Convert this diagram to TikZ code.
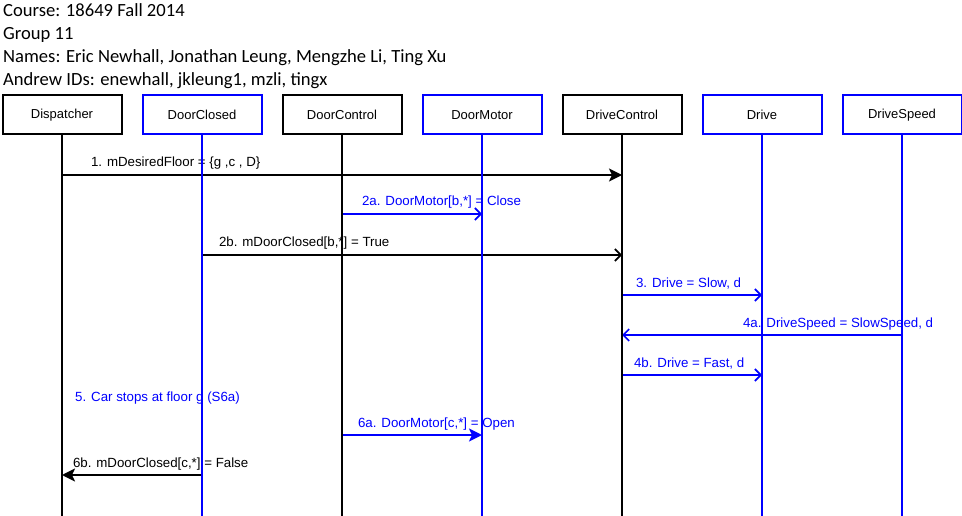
\documentclass[tikz,border=0pt]{standalone}
\usepackage{fontspec}
\setmainfont{Liberation Sans}
\newfontfamily\hdrfont{Carlito}
\usetikzlibrary{arrows.meta}

\begin{document}
\begin{tikzpicture}[x=1pt,y=-1pt,
    actor/.style={draw,line width=2pt,fill=white,minimum width=119pt,minimum height=39pt,inner sep=0pt,font=\fontsize{13}{15}\selectfont},
    life/.style={line width=2pt},
    msg/.style={line width=2pt},
    open/.style={-{Straight Barb[length=6pt,width=12pt,line width=1.6pt]}},
    solid/.style={-{Stealth[length=13pt,width=13pt,inset=3pt]}},
    lbl/.style={anchor=base west,inner sep=0pt,font=\fontsize{13.3}{15}\selectfont}]

\useasboundingbox (0,0) rectangle (962,516);
\coordinate (bot) at (0,516);

\foreach \t [count=\i] in {{Course: 18649 Fall 2014},{Group 11},
    {Names: Eric Newhall, Jonathan Leung, Mengzhe Li, Ting Xu},
    {Andrew IDs: enewhall, jkleung1, mzli, tingx}}{
    \node[anchor=base west,inner sep=0pt,font=\hdrfont\fontsize{18.6}{22}\selectfont] (hdr\i) at (3,{16.5+23*(\i-1)}) {\t};
}

\foreach \n/\t/\c [count=\i] in {disp/Dispatcher/black,dcls/DoorClosed/blue,
    dctrl/DoorControl/black,dmot/DoorMotor/blue,dctl/DriveControl/black,
    drv/Drive/blue,dspd/DriveSpeed/blue}{
    \node[actor,draw=\c] (\n) at ({62+140*(\i-1)},115) {\t};
}

\draw[msg,solid] (disp |- 0,175) -- (dctl |- 0,175)
    node[lbl,pos=0,xshift=28pt,yshift=8pt] {1. mDesiredFloor = \{g ,c , D\}};
\draw[msg,open,blue] (dctrl |- 0,214) -- (dmot |- 0,214)
    node[lbl,pos=0,xshift=19pt,yshift=8pt] {2a. DoorMotor[b,*] = Close};
\draw[msg,open] (dcls |- 0,255) -- (dctl |- 0,255)
    node[lbl,pos=0,xshift=16pt,yshift=8pt] {2b. mDoorClosed[b,*] = True};
\draw[msg,open,blue] (dctl |- 0,295) -- (drv |- 0,295)
    node[lbl,pos=0,xshift=13pt,yshift=8pt] {3. Drive = Slow, d};
\draw[msg,open,blue] (dspd |- 0,335) -- (dctl |- 0,335)
    node[lbl,pos=1,xshift=120pt,yshift=8pt] {4a. DriveSpeed = SlowSpeed, d};
\draw[msg,open,blue] (dctl |- 0,375) -- (drv |- 0,375)
    node[lbl,pos=0,xshift=11pt,yshift=8pt] {4b. Drive = Fast, d};

\node[lbl,blue] (stop) at (75,401) {5. Car stops at floor g (S6a)};

\draw[msg,solid,blue] (dctrl |- 0,435) -- (dmot |- 0,435)
    node[lbl,pos=0,xshift=15pt,yshift=8pt] {6a. DoorMotor[c,*] = Open};
\draw[msg,solid] (dcls |- 0,475) -- (disp |- 0,475)
    node[lbl,pos=1,xshift=10pt,yshift=8pt] {6b. mDoorClosed[c,*] = False};

\foreach \n/\c in {disp/black,dcls/blue,dctrl/black,dmot/blue,dctl/black,drv/blue,dspd/blue}
    \draw[life,\c] (\n.south) -- (\n |- bot);

\end{tikzpicture}
\end{document}
